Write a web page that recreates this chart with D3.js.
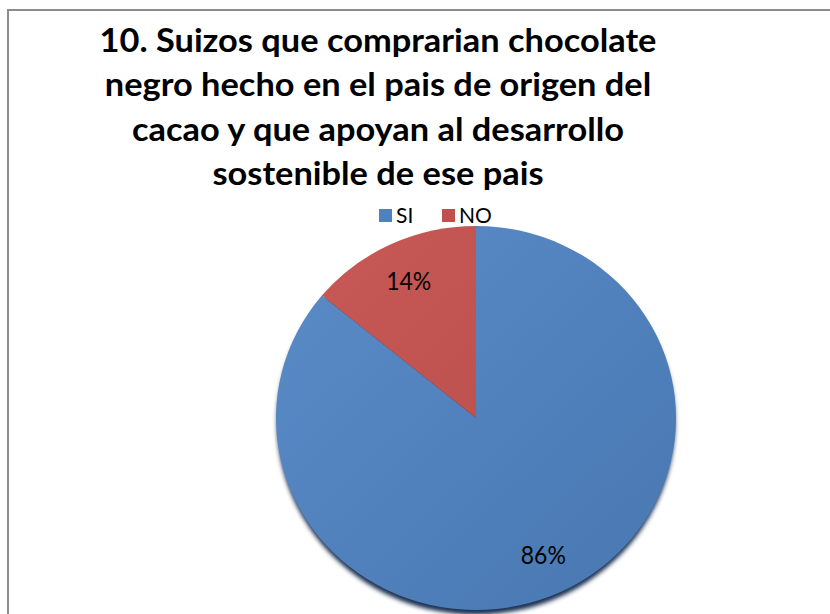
<!DOCTYPE html>
<html>
<head>
<meta charset="utf-8">
<script src="https://cdn.jsdelivr.net/npm/d3@7/dist/d3.min.js"></script>
<style>
  html, body { margin: 0; padding: 0; background: #fff; }
  svg { display: block; }
</style>
</head>
<body>
<svg id="chart" width="830" height="614"></svg>
<script>
// Survey answers
const categories = ["SI", "NO"];
const values = [86, 14];
const valueLabels = ["86%", "14%"];
const titleLines = [
  "10. Suizos que comprarian chocolate",
  "negro hecho en el pais de origen del",
  "cacao y que apoyan al desarrollo",
  "sostenible de ese pais"
];

const colors = ["#4F81BD", "#C0504D"];
const lightColors = ["#5A8CC9", "#C85A57"];
const darkColors = ["#4877B0", "#B44A47"];

const svg = d3.select("#chart");
const font = "Lato, 'Open Sans', 'DejaVu Sans', sans-serif";

// chart frame
svg.append("rect")
  .attr("x", 8).attr("y", 10)
  .attr("width", 840).attr("height", 640)
  .attr("fill", "#fff")
  .attr("stroke", "#8c8c8c")
  .attr("stroke-width", 2);

// title, condensed horizontally to a fixed line width
const titleG = svg.append("g");
const titleTexts = titleG.selectAll("text")
  .data(titleLines)
  .join("text")
  .attr("x", 0)
  .attr("y", (d, i) => 52 + i * 44.5)
  .attr("text-anchor", "middle")
  .attr("font-family", font)
  .attr("font-weight", "bold")
  .attr("font-size", 32)
  .attr("fill", "#000")
  .text(d => d);
const w0 = titleTexts.nodes()[0].getComputedTextLength();
const sx = 557 / w0;
titleG.attr("transform", `translate(378,0) scale(${sx},1)`);

// legend
const legend = svg.append("g");
const legendX = [379, 442];
categories.forEach((c, i) => {
  legend.append("rect")
    .attr("x", legendX[i]).attr("y", 209)
    .attr("width", 13).attr("height", 13)
    .attr("fill", colors[i]);
  legend.append("text")
    .attr("x", legendX[i] + 17).attr("y", 223)
    .attr("font-family", font)
    .attr("font-size", 21)
    .attr("fill", "#000")
    .text(c);
});

// pie
const cx = 476, cy = 418, r = 200, squash = 0.96;
const defs = svg.append("defs");
defs.append("filter").attr("id", "shadow")
  .attr("x", "-20%").attr("y", "-20%").attr("width", "140%").attr("height", "140%")
  .append("feGaussianBlur").attr("stdDeviation", 2);

categories.forEach((c, i) => {
  const g = defs.append("linearGradient")
    .attr("id", "grad" + i)
    .attr("gradientUnits", "userSpaceOnUse")
    .attr("x1", -r).attr("y1", -r).attr("x2", r).attr("y2", r);
  g.append("stop").attr("offset", "0%").attr("stop-color", lightColors[i]);
  g.append("stop").attr("offset", "100%").attr("stop-color", darkColors[i]);
});

const pieG = svg.append("g")
  .attr("transform", `translate(${cx},${cy}) scale(1,${squash})`);

// soft shadow under the disc
pieG.append("ellipse")
  .attr("cx", 0).attr("cy", 5)
  .attr("rx", r - 1).attr("ry", r)
  .attr("fill", "#1E3352")
  .attr("filter", "url(#shadow)");

const pie = d3.pie().sort(null).value(d => d);
const arcs = pie(values);
const arc = d3.arc().innerRadius(0).outerRadius(r);

pieG.selectAll("path.slice")
  .data(arcs)
  .join("path")
  .attr("class", "slice")
  .attr("d", arc)
  .attr("fill", (d, i) => `url(#grad${i})`);

// value labels
const labelArc = d3.arc().innerRadius(r * 0.79).outerRadius(r * 0.79);
svg.selectAll("text.val")
  .data(arcs)
  .join("text")
  .attr("class", "val")
  .attr("font-family", font)
  .attr("font-size", 25)
  .attr("text-anchor", "middle")
  .attr("fill", "#000")
  .attr("transform", d => {
    const p = labelArc.centroid(d);
    return `translate(${cx + p[0]},${cy + p[1] * squash + 9}) scale(0.92,1)`;
  })
  .text((d, i) => valueLabels[i]);
</script>
</body>
</html>
